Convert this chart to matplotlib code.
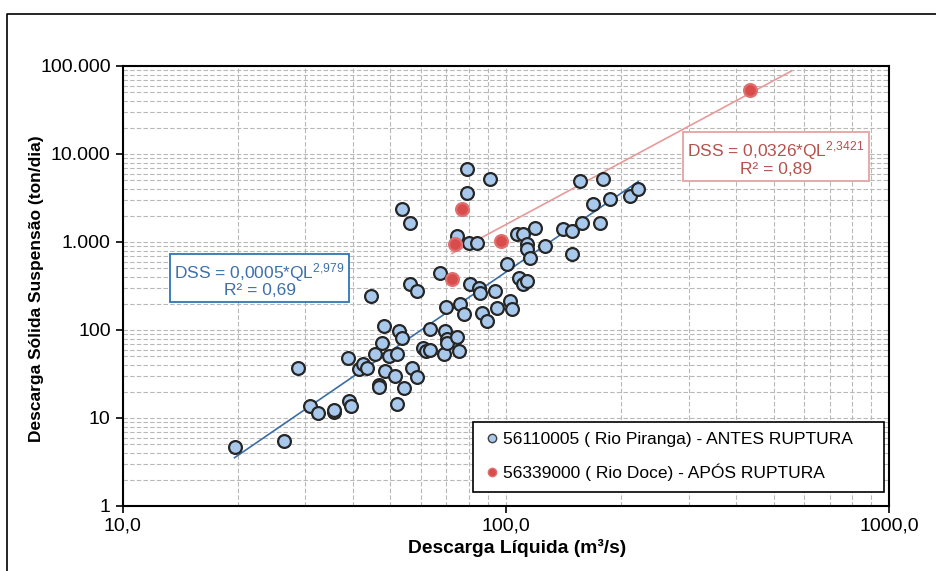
import numpy as np
import matplotlib
matplotlib.use('Agg')
import matplotlib.pyplot as plt
from matplotlib.lines import Line2D
from matplotlib.ticker import LogLocator, NullFormatter

plt.rcParams['font.family'] = ['Liberation Sans', 'DejaVu Sans']
plt.rcParams['mathtext.fontset'] = 'custom'
plt.rcParams['mathtext.rm'] = 'Liberation Sans'
plt.rcParams['mathtext.it'] = 'Liberation Sans'

# Rio Piranga (antes da ruptura): descarga liquida (m3/s), descarga solida (ton/dia)
ql_antes = [19.6, 26.4, 28.7, 30.8, 32.4, 35.7, 35.7, 38.7, 39.0, 39.5,
            41.3, 42.4, 43.4, 44.6, 45.7, 46.6, 46.6, 47.6, 48.1, 48.5,
            49.5, 51.5, 52.0, 52.0, 52.6, 53.6, 54.2, 57.0, 58.7, 63.5,
            60.7, 61.9, 63.5, 68.9, 69.6, 70.3, 70.3, 70.0, 74.6, 75.4,
            76.0, 77.6, 53.6, 56.4, 56.4, 58.7, 67.5, 74.6, 79.1, 79.1,
            80.0, 84.1, 80.9, 85.0, 85.8, 86.7, 89.3, 91.2, 94.0, 94.9,
            100.8, 102.8, 103.8, 106.9, 111.2, 108.0, 111.2, 113.5, 113.5, 113.5,
            115.8, 119.4, 126.8, 141.3, 148.6, 148.6, 157.8, 156.3, 169.3, 176.3,
            179.9, 187.2, 211.0, 221.6]
dss_antes = [4.7, 5.5, 37, 13.8, 11.5, 11.6, 12.2, 48, 15.8, 13.8,
             36, 41, 37, 245, 53, 24, 22.5, 72, 111, 34.5,
             50, 30, 14.3, 53, 98, 82, 22, 37, 29, 102,
             63, 58, 60, 53, 98, 78, 72, 181, 83, 58,
             197, 151, 2355, 1655, 333, 277, 448, 1170, 6700, 3630,
             982, 982, 330, 303, 261, 157, 127, 5150, 277, 179,
             558, 214, 172, 1222, 1222, 393, 330, 361, 942, 826,
             664, 1455, 902, 1393, 1333, 724, 1655, 4930, 2680, 1655,
             5150, 3054, 3330, 3970]

# Rio Doce (apos a ruptura)
ql_apos = [72.4, 73.8, 76.9, 96.9, 435.0]
dss_apos = [380, 942, 2355, 1026, 53300]

# curvas de ajuste (coeficientes das equacoes)
coef_antes, exp_antes = 0.0005, 2.979
coef_apos, exp_apos = 0.0326, 2.3421
faixa_antes = (19.6, 221.6)
faixa_apos = (72.4, 557.0)

ytick_vals = [1, 10, 100, 1000, 10000, 100000]
ytick_lbls = ['1', '10', '100', '1.000', '10.000', '100.000']
xtick_vals = [10, 100, 1000]
xtick_lbls = ['10,0', '100,0', '1000,0']

fig = plt.figure(figsize=(9.36, 5.71), dpi=100)
ax = fig.add_axes([122.5/936, 1-506/571, 766.5/936, 440/571])

# borda do grafico
fig.add_artist(Line2D([7/936, 7/936, 1.0], [0.0, 1-14/571, 1-14/571],
                      transform=fig.transFigure, color='black', lw=1.2))

ax.set_xscale('log')
ax.set_yscale('log')
ax.set_xlim(10, 1000)
ax.set_ylim(1, 100000)

ax.grid(True, which='both', color='#b8b8b8', linestyle=(0, (4, 2)), linewidth=0.8)
ax.set_axisbelow(True)
ax.xaxis.set_minor_locator(LogLocator(base=10, subs=np.arange(2, 10), numticks=20))
ax.yaxis.set_minor_locator(LogLocator(base=10, subs=np.arange(2, 10), numticks=20))
ax.xaxis.set_minor_formatter(NullFormatter())
ax.yaxis.set_minor_formatter(NullFormatter())
ax.tick_params(which='minor', length=0)
ax.tick_params(which='major', length=5, width=1.2, direction='out',
               labelsize=14, colors='black')
ax.set_xticks(xtick_vals)
ax.set_xticklabels(xtick_lbls)
ax.set_yticks(ytick_vals)
ax.set_yticklabels(ytick_lbls)
for s in ax.spines.values():
    s.set_linewidth(1.5)

# linhas de tendencia
xa = np.logspace(np.log10(faixa_antes[0]), np.log10(faixa_antes[1]), 50)
ax.plot(xa, coef_antes * xa**exp_antes, color='#3a6ea5', lw=1.2, zorder=2)
xb = np.logspace(np.log10(faixa_apos[0]), np.log10(faixa_apos[1]), 50)
ax.plot(xb, coef_apos * xb**exp_apos, color='#e89a9a', lw=1.2, zorder=2)

ax.scatter(ql_antes, dss_antes, s=85, facecolor='#a9c9ec', edgecolor='#262626',
           linewidth=1.6, zorder=3)
ax.scatter(ql_apos, dss_apos, s=85, facecolor='#d94c4c', edgecolor='#e07070',
           linewidth=1.6, zorder=3)

ax.set_xlabel('Descarga Líquida (m³/s)', fontsize=13.9, fontweight='bold')
ax.xaxis.set_label_coords(0.515, -0.075)
ax.set_ylabel('Descarga Sólida Suspensão (ton/dia)', fontsize=12.5, fontweight='bold')
ax.yaxis.set_label_coords(-0.102, 0.493)

ax.text(0.179, 0.515, 'DSS = 0,0005*QL$^{2{,}979}$\nR² = 0,69', transform=ax.transAxes,
        ha='center', va='center', fontsize=12.5, color='#3d6fa8', linespacing=0.95,
        bbox=dict(boxstyle='square,pad=0.25', facecolor='white', edgecolor='#2e75b6', lw=1.3),
        zorder=5)
ax.text(0.852, 0.791, 'DSS = 0,0326*QL$^{2{,}3421}$\nR² = 0,89', transform=ax.transAxes,
        ha='center', va='center', fontsize=12.5, color='#b5514d', linespacing=0.95,
        bbox=dict(boxstyle='square,pad=0.25', facecolor='white', edgecolor='#e6a3a3', lw=1.3),
        zorder=5)

handles = [Line2D([], [], ls='none', marker='o', ms=6, mfc='#a9c9ec', mec='#404040', mew=1.0),
           Line2D([], [], ls='none', marker='o', ms=6, mfc='#d94c4c', mec='#e07070', mew=1.0)]
leg = ax.legend(handles, ['56110005 ( Rio Piranga) - ANTES RUPTURA',
                          '56339000 ( Rio Doce) - APÓS RUPTURA'],
                loc='lower left', bbox_to_anchor=(0.4577, 0.0325, 0.536, 0.169),
                mode='expand', borderaxespad=0, fontsize=12.5, labelspacing=0.95,
                handletextpad=0.1, handlelength=1.0, fancybox=False,
                framealpha=1, edgecolor='black', borderpad=0.6)
leg.get_frame().set_linewidth(1.2)
leg.set_zorder(6)

fig.savefig('out.png', dpi=100)
